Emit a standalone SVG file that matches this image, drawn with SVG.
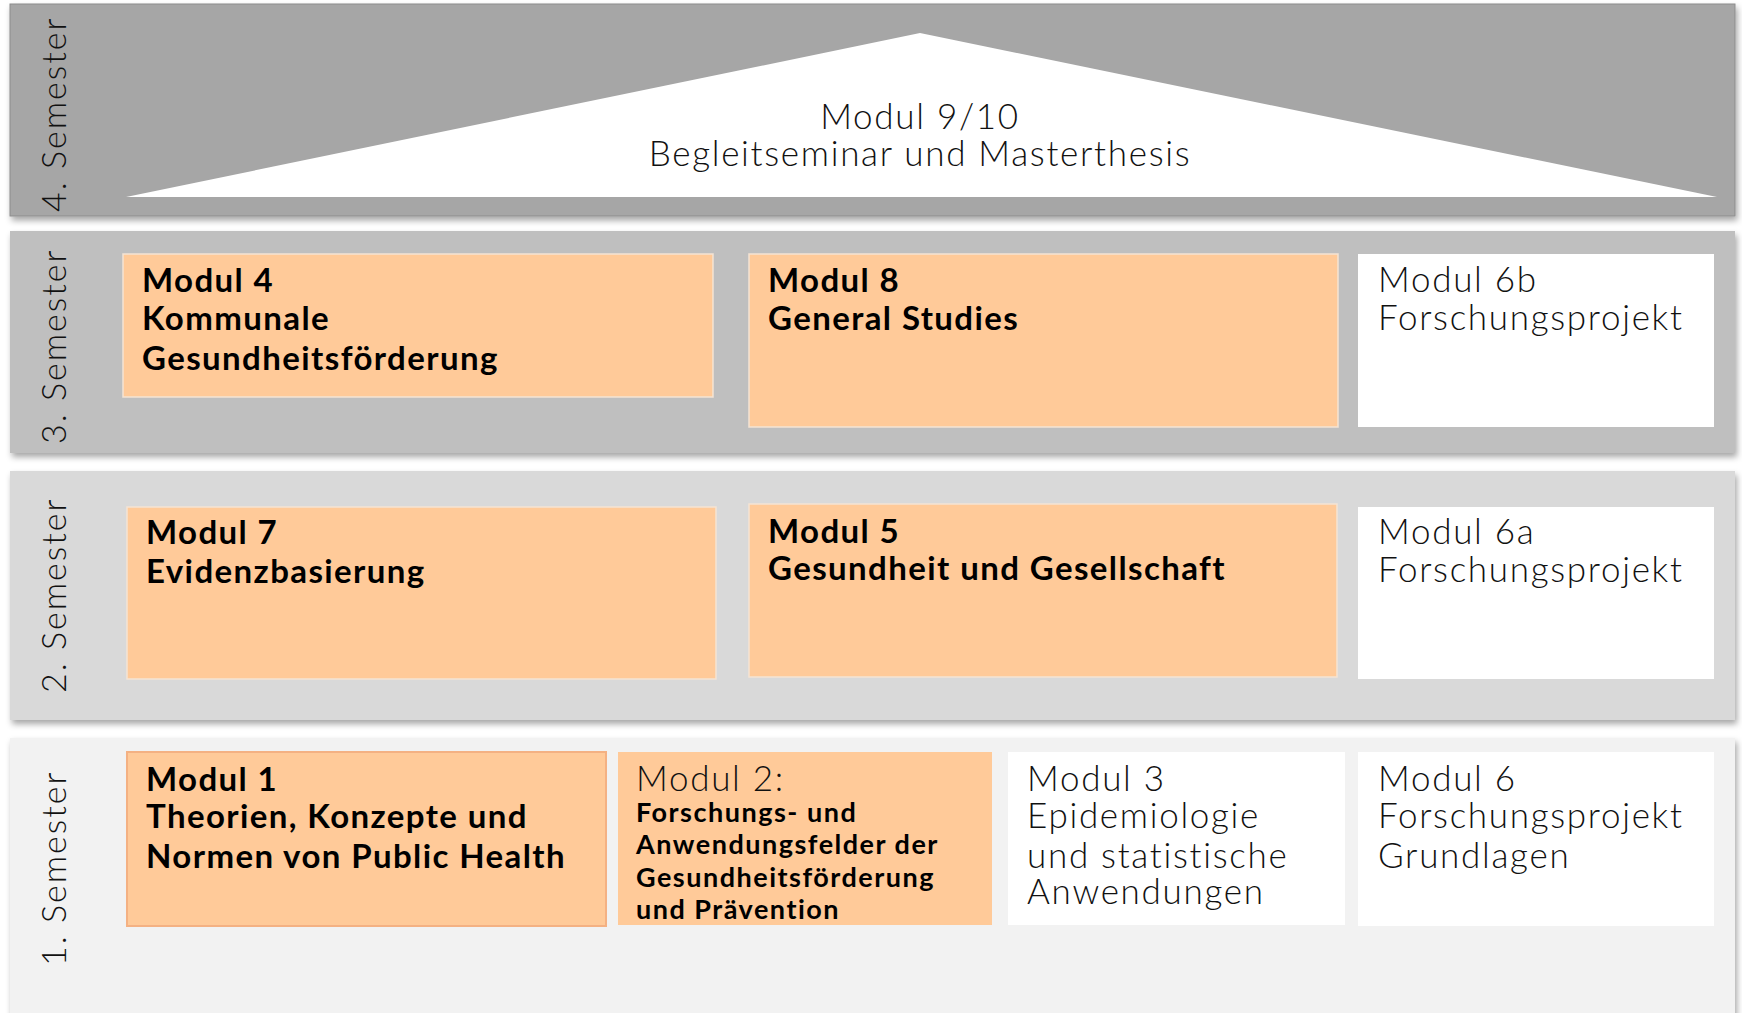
<svg xmlns="http://www.w3.org/2000/svg" width="1742" height="1013" viewBox="0 0 1742 1013">
<defs>
<filter id="sh" x="-2%" y="-5%" width="104%" height="115%">
<feDropShadow dx="2" dy="4" stdDeviation="3" flood-color="#000" flood-opacity="0.35"/>
</filter>
<style>
.lbl{font-family:Lato,"Open Sans",sans-serif;font-weight:300;font-size:34px;letter-spacing:2px;fill:#111}
.lt{font-family:Lato,"Open Sans",sans-serif;font-weight:300;font-size:35px;letter-spacing:1.7px;fill:#111}
.bd{font-family:Lato,"Open Sans",sans-serif;font-weight:700;font-size:33px;letter-spacing:1.4px;fill:#000}
.bs{font-family:Lato,"Open Sans",sans-serif;font-weight:700;font-size:27px;letter-spacing:1.5px;fill:#000}
.or{fill:#FFCA99;stroke:#F5E4D4;stroke-width:1.5}
.wh{fill:#FFFFFF}
</style>
</defs>
<rect width="1742" height="1013" fill="#FFFFFF"/>
<g id="band1"><rect x="10" y="738" width="1725" height="290" fill="#F2F2F2" filter="url(#sh)"/></g>
<g id="band2"><rect x="10" y="471" width="1725" height="249" fill="#D9D9D9" filter="url(#sh)"/></g>
<g id="band3"><rect x="10" y="231" width="1725" height="222" fill="#BFBFBF" filter="url(#sh)"/></g>
<g id="band4"><rect x="10" y="4" width="1725" height="212" fill="#A6A6A6" stroke="#8C8C8C" stroke-width="1" filter="url(#sh)"/></g>
<g id="labels">
<text class="lbl" transform="translate(66,212) rotate(-90)">4. Semester</text>
<text class="lbl" transform="translate(66,444) rotate(-90)">3. Semester</text>
<text class="lbl" transform="translate(66,693) rotate(-90)">2. Semester</text>
<text class="lbl" transform="translate(66,966) rotate(-90)">1. Semester</text>
</g>
<g id="modul9">
<polygon points="920,33 126,197 1717,197" fill="#FFFFFF"/>
<text class="lt" x="920" y="129" text-anchor="middle">Modul 9/10</text>
<text class="lt" x="920" y="166" text-anchor="middle">Begleitseminar und Masterthesis</text>
</g>
<g id="modul4">
<rect class="or" x="123" y="254" width="590" height="143"/>
<text class="bd" x="142" y="292">Modul 4</text>
<text class="bd" x="142" y="330">Kommunale</text>
<text class="bd" x="142" y="370">Gesundheitsförderung</text>
</g>
<g id="modul8">
<rect class="or" x="749" y="254" width="589" height="173"/>
<text class="bd" x="768" y="292">Modul 8</text>
<text class="bd" x="768" y="330">General Studies</text>
</g>
<g id="modul6b">
<rect class="wh" x="1358" y="254" width="356" height="173"/>
<text class="lt" x="1378" y="292">Modul 6b</text>
<text class="lt" x="1378" y="330">Forschungsprojekt</text>
</g>
<g id="modul7">
<rect class="or" x="127" y="507" width="589" height="172"/>
<text class="bd" x="146" y="544">Modul 7</text>
<text class="bd" x="146" y="583">Evidenzbasierung</text>
</g>
<g id="modul5">
<rect class="or" x="749" y="504" width="588" height="173"/>
<text class="bd" x="768" y="543">Modul 5</text>
<text class="bd" x="768" y="580">Gesundheit und Gesellschaft</text>
</g>
<g id="modul6a">
<rect class="wh" x="1358" y="507" width="356" height="172"/>
<text class="lt" x="1378" y="544">Modul 6a</text>
<text class="lt" x="1378" y="582">Forschungsprojekt</text>
</g>
<g id="modul1">
<rect x="127" y="752" width="479" height="174" fill="#FFCA99" stroke="#F4B183" stroke-width="2"/>
<text class="bd" x="146" y="791">Modul 1</text>
<text class="bd" x="146" y="828">Theorien, Konzepte und</text>
<text class="bd" x="146" y="868">Normen von Public Health</text>
</g>
<g id="modul2">
<rect x="618" y="752" width="374" height="173" fill="#FFCA99"/>
<text class="lt" x="636" y="791">Modul 2:</text>
<text class="bs" x="636" y="822">Forschungs- und</text>
<text class="bs" x="636" y="854">Anwendungsfelder der</text>
<text class="bs" x="636" y="887">Gesundheitsförderung</text>
<text class="bs" x="636" y="919">und Prävention</text>
</g>
<g id="modul3">
<rect class="wh" x="1008" y="752" width="337" height="173"/>
<text class="lt" x="1027" y="791">Modul 3</text>
<text class="lt" x="1027" y="828">Epidemiologie</text>
<text class="lt" x="1027" y="868">und statistische</text>
<text class="lt" x="1027" y="904">Anwendungen</text>
</g>
<g id="modul6">
<rect class="wh" x="1358" y="752" width="356" height="174"/>
<text class="lt" x="1378" y="791">Modul 6</text>
<text class="lt" x="1378" y="828">Forschungsprojekt</text>
<text class="lt" x="1378" y="868">Grundlagen</text>
</g>
<g id="connectors"/>
</svg>
